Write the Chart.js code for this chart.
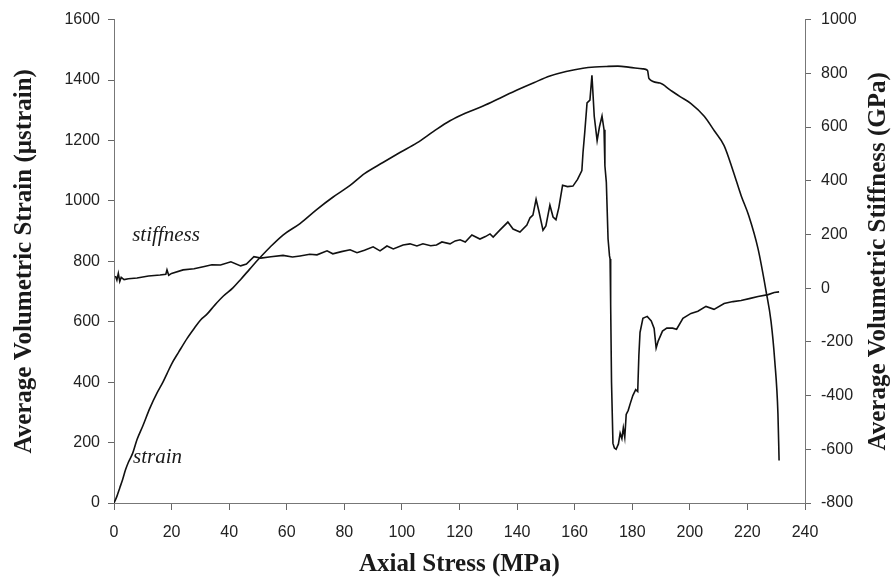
<!DOCTYPE html>
<html>
<head>
<meta charset="utf-8">
<title>Volumetric strain and stiffness vs axial stress</title>
<script src="https://cdn.jsdelivr.net/npm/chart.js@4.4.1/dist/chart.umd.min.js"></script>
<style>
  body { margin: 0; background: #fff; }
  #wrap { width: 891px; height: 584px; }
</style>
</head>
<body>
<div id="wrap"><canvas id="myChart" width="891" height="584"></canvas></div>
<script>
// Volumetric strain curve (left axis)
const strainX = [0, 1, 2, 3, 4, 5, 6.5, 8, 10, 12.5, 15, 17, 18.5, 20, 22.5, 25.4, 28, 30, 32.3, 35,
    38, 41.3, 44, 47.2, 50, 54, 58.7, 64.6, 70.5, 76, 82, 87, 93.4, 99.3, 105.2, 111, 116.7, 122,
    128.2, 134, 140, 146, 151.4, 157, 162.9, 167, 171.2, 175, 179.2, 183.7, 185.3, 185.8, 189.6,
    193, 196.6, 200.4, 205, 208.5, 211.9, 215, 217.8, 220.5, 223.7, 226.5, 228.2, 229.5, 230.6, 231];
const strainY = [0, 22, 50, 78, 110, 135, 165, 210, 255, 315, 365, 400, 430, 460, 500, 545, 580, 605, 625, 655,
    685, 712, 740, 775, 805, 845, 887, 925, 972, 1012, 1051, 1090, 1127, 1160, 1192, 1230, 1265, 1290,
    1314, 1340, 1367, 1392, 1413, 1428, 1439, 1443, 1445, 1446, 1442, 1437, 1432, 1405, 1390,
    1368, 1345, 1322, 1280, 1232, 1183, 1100, 1018, 950, 841, 700, 601, 470, 296, 141];

// Volumetric stiffness curve (right axis)
const stiffX = [0.5, 1, 1.5, 2, 2.5, 3.5, 5, 8, 12, 16, 18, 18.4, 19, 20, 24, 27.8, 31, 34, 37, 40.6,
    44, 46, 48.6, 51, 54.5, 58.7, 62, 64.6, 68, 70.5, 74, 76, 79, 82, 84.4, 87, 90, 92.4, 94.8,
    97, 100.4, 102.8, 105.2, 107.3, 110, 112, 113.9, 116.7, 118.5, 120.2, 122, 124.3, 127.1, 129, 130.6,
    131.7, 134, 136.8, 138.6, 141, 143.4, 144.5, 145.5, 146.6, 147.5, 149, 150, 151.4, 152.5,
    153.5, 154.5, 155.8, 157.5, 159.4, 161, 162.5, 162.9, 163.5, 164.3, 165.3, 166, 166.8, 167.8,
    168.6, 169.5, 170.2, 170.5, 171, 171.6, 172.1, 172.3, 172.5, 172.8, 173.3, 173.8, 174.4, 175.2,
    175.8, 176.4, 176.9, 177.4, 177.9, 178.6, 179.3, 180.2, 181.2, 181.9, 182.3, 182.7, 183.7, 185.2,
    186.6, 187.6, 188.3, 189, 190.5, 192, 194, 195.4, 197.6, 200.4, 202.8, 205.6, 208.4, 211.9,
    215, 217.8, 221, 223.7, 227.2, 229.3, 231];
const stiffY = [45, 30, 55, 25, 40, 32, 35, 38, 45, 49, 52, 68, 48, 55, 68, 72, 80, 87, 86, 98,
    83, 90, 117, 112, 117, 122, 116, 120, 126, 124, 139, 128, 136, 143, 132, 141, 154, 139, 157,
    146, 161, 165, 157, 165, 158, 161, 172, 165, 176, 180, 172, 198, 183, 192, 202,
    190, 216, 246, 220, 209, 235, 262, 272, 331, 290, 216, 232, 309, 265,
    255, 300, 383, 378, 380, 405, 438, 505, 580, 690, 700, 793, 640, 549,
    600, 641, 590, 456, 394, 183, 120, 109, -60, -350, -578, -595, -600, -580,
    -540, -560, -520, -555, -470, -455, -430, -400, -378, -385, -250, -165, -112, -105,
    -122, -150, -223, -197, -160, -149, -149, -153, -112, -94, -86, -68, -79, -57,
    -50, -46, -38, -31, -24, -16, -14];

// Axis tick settings
const xTicks = { min: 0, max: 240, step: 20 };
const strainTicks = { min: 0, max: 1600, step: 200 };
const stiffTicks = { min: -800, max: 1000, step: 200 };

// Curve labels
const curveLabels = [
    { text: "stiffness", x: 6.3, y: 887 },
    { text: "strain", x: 6.6, y: 151 }
];

const toPoints = (xs, ys) => xs.map((x, i) => ({ x: x, y: ys[i] }));

const tickFont = { family: "Liberation Sans, Arial, sans-serif", size: 16 };
const titleFont = { family: "Liberation Serif, Times New Roman, serif", size: 25, weight: "bold" };
const plainNumber = (v) => String(v);

// Draws the right axis title (reads bottom to top) and the curve labels
const extrasPlugin = {
    id: "extras",
    afterDraw(chart) {
        const ctx = chart.ctx;
        const area = chart.chartArea;
        ctx.save();
        ctx.fillStyle = "#1a1a1a";
        ctx.font = "bold 25px 'Liberation Serif', 'Times New Roman', serif";
        ctx.textAlign = "center";
        ctx.textBaseline = "middle";
        ctx.translate(879, (area.top + area.bottom) / 2);
        ctx.rotate(-Math.PI / 2);
        ctx.fillText("Average Volumetric Stiffness (GPa)", 0, 0);
        ctx.restore();

        ctx.save();
        ctx.fillStyle = "#1a1a1a";
        ctx.font = "italic 21px 'Liberation Serif', 'Times New Roman', serif";
        ctx.textAlign = "left";
        ctx.textBaseline = "middle";
        curveLabels.forEach(l => {
            ctx.fillText(l.text, chart.scales.x.getPixelForValue(l.x), chart.scales.y.getPixelForValue(l.y));
        });
        ctx.restore();
    }
};

const axisGrid = { drawOnChartArea: false, drawTicks: true, tickLength: 6, color: "#666" };

const ctx = document.getElementById("myChart").getContext("2d");
const myChart = new Chart(ctx, {
    type: "line",
    data: {
        datasets: [{
            label: "strain",
            data: toPoints(strainX, strainY),
            yAxisID: "y",
            borderColor: "#111",
            borderWidth: 1.6,
            pointRadius: 0,
            cubicInterpolationMode: "monotone"
        }, {
            label: "stiffness",
            data: toPoints(stiffX, stiffY),
            yAxisID: "y2",
            borderColor: "#111",
            borderWidth: 1.6,
            pointRadius: 0,
            tension: 0
        }]
    },
    options: {
        responsive: false,
        animation: false,
        layout: { padding: { top: 16, left: 0, right: 0, bottom: 0 } },
        plugins: {
            legend: { display: false },
            tooltip: { enabled: false }
        },
        scales: {
            x: {
                type: "linear",
                min: xTicks.min,
                max: xTicks.max,
                ticks: { stepSize: xTicks.step, font: tickFont, color: "#222", padding: 13, maxRotation: 0, callback: plainNumber },
                grid: { drawOnChartArea: false, drawTicks: true, tickLength: 7, color: "#666" },
                border: { color: "#777" },
                title: { display: true, text: "Axial Stress (MPa)", font: titleFont, color: "#1a1a1a", padding: { top: 0, bottom: 4 } },
                afterFit: (scale) => { scale.height = 81; }
            },
            y: {
                position: "left",
                min: strainTicks.min,
                max: strainTicks.max,
                ticks: { stepSize: strainTicks.step, font: tickFont, color: "#222", padding: 8, callback: plainNumber },
                grid: axisGrid,
                border: { color: "#777" },
                title: { display: true, text: "Average Volumetric Strain (µstrain)", font: titleFont, color: "#1a1a1a", padding: { top: 10, bottom: 0 } },
                afterFit: (scale) => { scale.width = 114; }
            },
            y2: {
                position: "right",
                min: stiffTicks.min,
                max: stiffTicks.max,
                ticks: { stepSize: stiffTicks.step, font: tickFont, color: "#222", padding: 10, callback: plainNumber },
                grid: axisGrid,
                border: { color: "#777" },
                afterFit: (scale) => { scale.width = 86; }
            }
        }
    },
    plugins: [extrasPlugin]
});
</script>
</body>
</html>
